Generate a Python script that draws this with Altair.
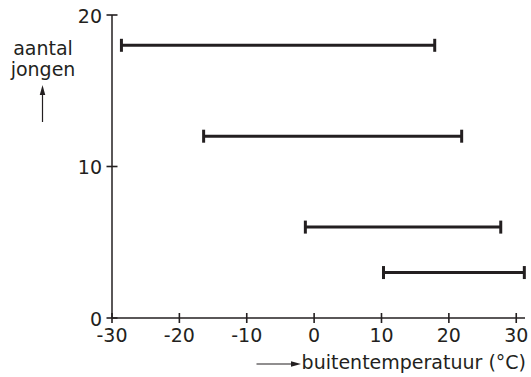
import altair as alt
import pandas as pd

# data
jongen = [18, 12, 6, 3]                 # aantal jongen
temp_min = [-28.6, -16.4, -1.3, 10.3]   # lowest outside temperature
temp_max = [17.9, 21.9, 27.7, 31.2]     # highest outside temperature
x_ticks = [-30, -20, -10, 0, 10, 20, 30]
y_ticks = [0, 10, 20]
x_domain = [-30, 31.3]
y_domain = [0, 20]
x_title = "buitentemperatuur (°C)"
y_title = "aantal\njongen"

INK = "#231f20"
FONT = "DejaVu Sans"
FS = 19

bars = pd.DataFrame({"n": jongen, "lo": temp_min, "hi": temp_max})
xt = pd.DataFrame({"xv": x_ticks, "xz": [y_domain[0]] * len(x_ticks),
                   "xl": [str(v) for v in x_ticks]})
yt = pd.DataFrame({"yv": y_ticks, "yz": [x_domain[0]] * len(y_ticks),
                   "yl": [str(v) for v in y_ticks]})
xax = pd.DataFrame({"a": [x_domain[0]], "b": [x_domain[1]], "c": [y_domain[0]]})
yax = pd.DataFrame({"a": [y_domain[0]], "b": [y_domain[1]], "c": [x_domain[0]]})
one = pd.DataFrame({"k": [0]})

xs = alt.Scale(domain=x_domain, nice=False, zero=False)
ys = alt.Scale(domain=y_domain, nice=False, zero=False)

def X(f):
    return alt.X(f, scale=xs, axis=None)

def Y(f):
    return alt.Y(f, scale=ys, axis=None)

# axis lines
x_line = alt.Chart(xax).mark_rule(color=INK, strokeWidth=1.5).encode(
    x=X("a:Q"), x2="b:Q", y=Y("c:Q"))
y_line = alt.Chart(yax).mark_rule(color=INK, strokeWidth=1.5).encode(
    y=Y("a:Q"), y2="b:Q", x=X("c:Q"))

# ticks crossing the axes
xtick = alt.Chart(xt).mark_tick(orient="vertical", color=INK, size=10, thickness=1.6,
                                opacity=1).encode(
    x=X("xv:Q"), y=Y("xz:Q"))
ytick = alt.Chart(yt).mark_tick(orient="horizontal", color=INK, size=11, thickness=1.6,
                                opacity=1).encode(
    x=X("yz:Q"), y=Y("yv:Q"))

# tick labels
xlab = alt.Chart(xt).mark_text(font=FONT, fontSize=FS, color=INK, baseline="top", dy=9).encode(
    x=X("xv:Q"), y=Y("xz:Q"), text="xl:N")
ylab = alt.Chart(yt).mark_text(font=FONT, fontSize=FS, color=INK, align="right",
                               baseline="middle", dx=-10, dy=1.5).encode(
    x=X("yz:Q"), y=Y("yv:Q"), text="yl:N")

# bars with end caps
rule = alt.Chart(bars).mark_rule(color=INK, strokeWidth=3).encode(
    x=X("lo:Q"), x2="hi:Q", y=Y("n:Q"))
cap_lo = alt.Chart(bars).mark_rule(color=INK, strokeWidth=3, yOffset=-6.5, y2Offset=6.5).encode(
    x=X("lo:Q"), y=Y("n:Q"), y2="n:Q")
cap_hi = alt.Chart(bars).mark_rule(color=INK, strokeWidth=3, yOffset=-6.5, y2Offset=6.5).encode(
    x=X("hi:Q"), y=Y("n:Q"), y2="n:Q")

# axis titles and their arrows
xtitle = alt.Chart(one).mark_text(font=FONT, fontSize=FS, color=INK, align="right",
                                  baseline="alphabetic").encode(
    x=alt.value(414), y=alt.value(354), text=alt.value(x_title))
ytitle = alt.Chart(one).mark_text(font=FONT, fontSize=FS, color=INK, align="center",
                                  baseline="alphabetic", lineBreak="\n", lineHeight=21).encode(
    x=alt.value(-69), y=alt.value(40), text=alt.value(y_title))
up_line = alt.Chart(one).mark_rule(color=INK, strokeWidth=1.2).encode(
    x=alt.value(-69.5), y=alt.value(78), y2=alt.value(107))
up_head = alt.Chart(one).mark_point(shape="M0,-1L0.55,1L-0.55,1Z", filled=True, size=100,
                                    color=INK, opacity=1).encode(
    x=alt.value(-69.5), y=alt.value(75))
right_line = alt.Chart(one).mark_rule(color=INK, strokeWidth=1.2).encode(
    x=alt.value(144.5), x2=alt.value(180), y=alt.value(349))
right_head = alt.Chart(one).mark_point(shape="M1,0L-1,0.55L-1,-0.55Z", filled=True, size=100,
                                       color=INK, opacity=1).encode(
    x=alt.value(184), y=alt.value(349))

chart = alt.layer(
    x_line, y_line, xtick, ytick, xlab, ylab, rule, cap_lo, cap_hi,
    xtitle, ytitle, up_line, up_head, right_line, right_head
).properties(
    width=413, height=303,
    autosize=alt.AutoSizeParams(type="none"),
    padding={"left": 112, "top": 15, "right": 6, "bottom": 59},
    background="white",
).configure_view(stroke=None)

chart.save("out.html", embed_options={"renderer": "svg", "actions": False})
